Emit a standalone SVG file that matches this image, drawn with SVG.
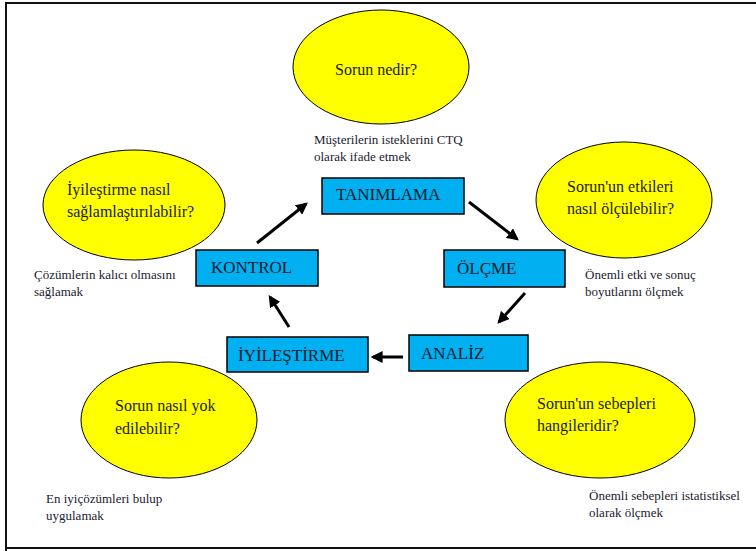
<svg xmlns="http://www.w3.org/2000/svg" width="756" height="551" viewBox="0 0 756 551">
<style>
.ell{fill:#FFFF00;stroke:#000;stroke-width:1}
.box{fill:#00B0F0;stroke:#000;stroke-width:1.5}
text{font-family:"Liberation Serif","Times New Roman",Tinos,"DejaVu Serif",serif}
.q{font-size:16px;fill:#1a1a1a}
.b{font-size:17px;fill:#0a1a2a}
.n{font-size:13px;fill:#1a1a30}
.arr{stroke:#000;stroke-width:3;fill:none;marker-end:url(#ah)}
</style>
<defs>
<marker id="ah" markerWidth="4" markerHeight="4" refX="3.2" refY="2" orient="auto" markerUnits="strokeWidth">
<path d="M0,0 L4,2 L0,4 Z" fill="#000"/>
</marker>
</defs>
<rect x="0" y="0" width="756" height="551" fill="#fff"/>
<path d="M6,551 V3 H756 M6,548 H756" stroke="#111" stroke-width="2" fill="none"/>

<g id="q-top">
<ellipse class="ell" cx="381" cy="67" rx="88" ry="57"/>
<text class="q" x="335" y="75">Sorun nedir?</text>
</g>
<g id="n-top">
<text class="n" x="314" y="144">Müşterilerin isteklerini CTQ</text>
<text class="n" x="314" y="161">olarak ifade etmek</text>
</g>

<g id="q-left">
<ellipse class="ell" cx="134" cy="205" rx="91" ry="55"/>
<text class="q" x="67" y="195">İyileştirme nasıl</text>
<text class="q" x="67" y="217">sağlamlaştırılabilir?</text>
</g>
<g id="n-left">
<text class="n" x="34" y="279">Çözümlerin kalıcı olmasını</text>
<text class="n" x="34" y="296">sağlamak</text>
</g>

<g id="q-right">
<ellipse class="ell" cx="624" cy="200" rx="88" ry="58"/>
<text class="q" x="567" y="192">Sorun'un etkileri</text>
<text class="q" x="567" y="214">nasıl ölçülebilir?</text>
</g>
<g id="n-right">
<text class="n" x="585" y="279">Önemli etki ve sonuç</text>
<text class="n" x="585" y="296">boyutlarını ölçmek</text>
</g>

<g id="q-bl">
<ellipse class="ell" cx="169" cy="420" rx="88" ry="58"/>
<text class="q" x="115" y="411">Sorun nasıl yok</text>
<text class="q" x="115" y="434">edilebilir?</text>
</g>
<g id="n-bl">
<text class="n" x="46" y="503">En iyiçözümleri bulup</text>
<text class="n" x="46" y="520">uygulamak</text>
</g>

<g id="q-br">
<ellipse class="ell" cx="600" cy="420" rx="95" ry="58"/>
<text class="q" x="537" y="409">Sorun'un sebepleri</text>
<text class="q" x="537" y="431">hangileridir?</text>
</g>
<g id="n-br">
<text class="n" x="589" y="500">Önemli sebepleri istatistiksel</text>
<text class="n" x="589" y="517">olarak ölçmek</text>
</g>

<g id="tanimlama">
<rect class="box" x="322" y="178" width="142" height="36"/>
<text class="b" x="336" y="200">TANIMLAMA</text>
</g>
<g id="olcme">
<rect class="box" x="444" y="250" width="121" height="37"/>
<text class="b" x="457" y="274">ÖLÇME</text>
</g>
<g id="analiz">
<rect class="box" x="409" y="335" width="119" height="36"/>
<text class="b" x="421" y="359">ANALİZ</text>
</g>
<g id="iyilestirme">
<rect class="box" x="227" y="337" width="141" height="35"/>
<text class="b" x="238" y="361">İYİLEŞTİRME</text>
</g>
<g id="kontrol">
<rect class="box" x="196" y="250" width="122" height="36"/>
<text class="b" x="211" y="273">KONTROL</text>
</g>

<g id="connectors">
<line class="arr" x1="257" y1="243" x2="306" y2="204"/>
<line class="arr" x1="469" y1="202" x2="517" y2="239"/>
<line class="arr" x1="525" y1="293" x2="499" y2="322"/>
<line class="arr" x1="403" y1="357" x2="373" y2="357"/>
<line class="arr" x1="289" y1="327" x2="270" y2="297"/>
</g>
</svg>
